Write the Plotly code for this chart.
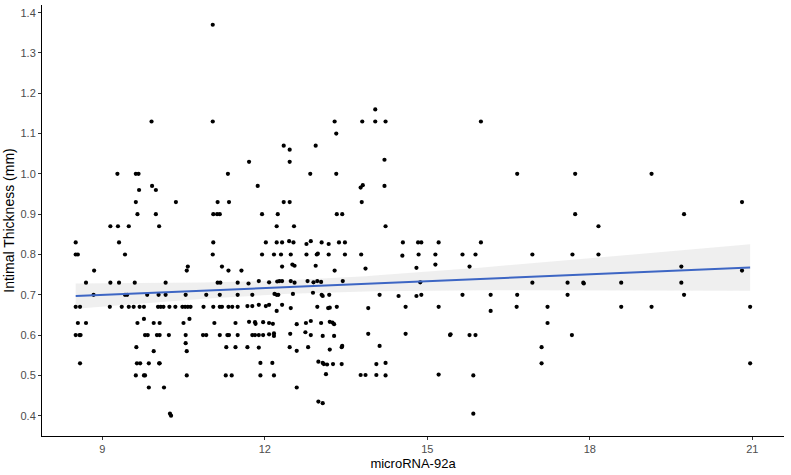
import numpy as np
import plotly.graph_objects as go

# microRNA-92a values
mirna = [
    11.04, 9.91, 11.04, 9.28, 9.62, 9.67, 11.32, 9.92, 9.99, 9.68, 9.62, 10.36, 11.13, 11.34, 9.65, 9.99, 11.05, 11.12, 11.17,
    8.51, 8.51, 8.55, 8.85, 8.70, 9.15, 9.29, 9.49, 10.05, 9.31, 9.42, 9.15, 9.31, 9.60, 8.84, 8.51, 8.59, 9.14, 9.36, 9.42,
    9.46, 9.49, 9.58, 9.69, 9.77, 9.83, 10.04, 10.17, 10.17, 10.03, 10.08, 10.13, 10.24, 10.35, 10.48, 10.53, 10.58, 10.63,
    10.54, 10.56, 10.58, 10.87, 10.92, 11.05, 11.04, 11.21, 11.13, 11.18, 11.33, 11.17, 11.05, 11.17, 11.21, 11.33, 11.40,
    11.50, 11.50, 11.50, 8.55, 8.70, 8.51, 8.58, 8.60, 8.59, 9.65, 9.77, 9.95, 10.06, 10.50, 10.61, 11.07, 11.46, 9.79, 9.84,
    10.01, 10.06, 10.23, 10.54, 10.86, 10.92, 11.17, 11.31, 11.34, 11.50, 9.63, 9.95, 10.54, 10.56, 11.29, 11.46, 9.64, 9.70,
    9.86, 10.05, 10.06, 9.62, 9.77, 9.79, 9.86, 10.14, 10.56, 11.28, 11.39, 10.25, 10.27,
    14.04, 13.29, 13.80, 14.04, 14.23, 13.32, 12.35, 12.46, 12.94, 11.71, 12.46, 14.21, 12.84, 13.32, 11.87, 13.77, 13.81,
    14.21, 12.35, 12.46, 13.79, 11.95, 12.24, 13.33, 13.43,
    12.22, 12.54, 14.23,
    12.02, 12.22, 12.32, 12.45, 12.53, 12.77, 12.85, 13.05, 13.18, 13.37, 13.48, 14.55, 14.83, 14.89, 15.21,
    11.95, 12.17, 12.30, 12.48, 12.77, 12.96, 12.98, 13.18, 13.48, 13.78, 14.54, 14.84, 15.15,
    11.57,
    12.32, 12.51, 12.55, 12.94, 15.15, 14.80,
    13.29, 13.86,
    11.70, 11.89, 12.08, 12.23, 12.27, 12.32, 12.48, 12.55, 12.79, 12.90, 12.97, 13.04, 13.44, 14.87,
    11.77, 12.18, 12.22, 12.25, 12.52, 12.89, 13.05, 13.07, 13.19, 14.12, 14.47, 14.80, 14.89,
    11.68, 11.77, 11.89, 12.02, 12.08, 12.22, 12.32, 12.48, 12.97, 13.17, 13.20, 13.33, 13.91, 14.60, 15.21,
    11.71, 11.82, 11.83, 11.97, 12.08, 12.15, 12.59, 12.76, 12.85, 13.04, 13.20, 13.25, 13.28,
    11.77, 11.82, 11.89, 11.97, 12.08, 12.17, 12.17, 12.47, 12.75, 12.85, 13.07, 13.28, 13.91, 14.60,
    11.68, 11.89, 12.46, 12.59, 12.80, 13.20, 13.42, 13.43, 14.12,
    11.92, 12.14, 12.99, 13.07, 13.09, 13.15, 13.26, 13.42, 14.06, 14.23,
    11.92, 12.17, 13.13, 13.77, 13.86, 14.06, 14.23, 15.21,
    12.59, 12.99, 13.07,
    15.99, 16.66, 17.73, 17.73, 18.16, 15.99, 15.65, 15.89, 15.78, 16.94, 17.68, 18.16, 16.94, 17.59, 17.88, 17.89, 18.58,
    15.65, 16.17, 16.66, 17.59, 16.17, 16.65, 17.22, 18.58, 17.22, 15.42, 15.43, 15.78, 15.89, 17.67, 17.11, 17.11, 15.85,
    15.85,
    19.14, 20.81, 19.74, 19.69, 19.69, 19.74, 19.14, 20.81, 20.96, 20.96,
]

# Intimal thickness (mm)
thickness = [
    1.37, 1.13, 1.13, 1.00, 1.00, 1.00, 1.00, 0.97, 0.96, 0.96, 0.93, 0.93, 0.93, 0.93, 0.90, 0.90, 0.90, 0.90, 0.90,
    0.83, 0.80, 0.80, 0.76, 0.73, 0.87, 0.87, 0.87, 0.87, 0.83, 0.80, 0.73, 0.73, 0.73, 0.70, 0.67, 0.67, 0.67, 0.67, 0.70,
    0.70, 0.67, 0.67, 0.67, 0.67, 0.70, 0.70, 0.73, 0.70, 0.67, 0.67, 0.67, 0.67, 0.67, 0.67, 0.67, 0.67, 0.67,
    0.70, 0.76, 0.77, 0.67, 0.70, 0.83, 0.80, 0.77, 0.73, 0.73, 0.76, 0.70, 0.67, 0.67, 0.67, 0.67, 0.67,
    0.73, 0.70, 0.67, 0.63, 0.63, 0.60, 0.60, 0.60, 0.53, 0.63, 0.64, 0.63, 0.63, 0.63, 0.64, 0.63, 0.63, 0.60, 0.60,
    0.60, 0.60, 0.60, 0.60, 0.60, 0.60, 0.60, 0.60, 0.60, 0.60, 0.57, 0.56, 0.58, 0.56, 0.57, 0.57, 0.53, 0.53,
    0.53, 0.53, 0.53, 0.50, 0.50, 0.50, 0.47, 0.47, 0.50, 0.50, 0.50, 0.405, 0.40,
    1.16, 1.13, 1.13, 1.13, 1.13, 1.10, 1.07, 1.06, 1.07, 1.03, 1.03, 1.035, 1.00, 1.00, 0.97, 0.966, 0.972,
    0.97, 0.93, 0.93, 0.93, 0.90, 0.90, 0.90, 0.90,
    0.87, 0.87, 0.87,
    0.83, 0.83, 0.83, 0.833, 0.83, 0.826, 0.833, 0.83, 0.826, 0.83, 0.83, 0.83, 0.83, 0.83, 0.83,
    0.80, 0.80, 0.80, 0.80, 0.80, 0.80, 0.802, 0.80, 0.80, 0.80, 0.797, 0.80, 0.80,
    0.76,
    0.77, 0.775, 0.772, 0.772, 0.775, 0.767,
    0.76, 0.765,
    0.728, 0.734, 0.731, 0.733, 0.734, 0.734, 0.734, 0.73, 0.734, 0.731, 0.734, 0.732, 0.734, 0.731,
    0.70, 0.702, 0.70, 0.70, 0.702, 0.705, 0.70, 0.697, 0.70, 0.70, 0.697, 0.697, 0.70,
    0.672, 0.672, 0.675, 0.672, 0.675, 0.66, 0.675, 0.667, 0.67, 0.667, 0.668, 0.67, 0.667, 0.67, 0.67,
    0.633, 0.632, 0.628, 0.632, 0.63, 0.628, 0.627, 0.63, 0.635, 0.63, 0.633, 0.631, 0.627,
    0.60, 0.60, 0.60, 0.60, 0.602, 0.604, 0.598, 0.603, 0.607, 0.60, 0.598, 0.598, 0.603, 0.603,
    0.57, 0.569, 0.57, 0.561, 0.57, 0.564, 0.57, 0.573, 0.573,
    0.531, 0.531, 0.534, 0.531, 0.528, 0.527, 0.528, 0.528, 0.528, 0.531,
    0.50, 0.50, 0.503, 0.501, 0.501, 0.501, 0.50, 0.502,
    0.47, 0.435, 0.431,
    1.13, 1.00, 1.00, 0.90, 0.87, 0.83, 0.80, 0.80, 0.77, 0.80, 0.80, 0.80, 0.73, 0.73, 0.73, 0.728, 0.73,
    0.70, 0.70, 0.70, 0.70, 0.66, 0.67, 0.67, 0.67, 0.63, 0.60, 0.602, 0.60, 0.60, 0.60, 0.57, 0.53, 0.50,
    0.405,
    1.00, 0.93, 0.90, 0.77, 0.73, 0.70, 0.67, 0.76, 0.67, 0.53,
]

x_ticks = [9, 12, 15, 18, 21]
y_ticks = [0.4, 0.5, 0.6, 0.7, 0.8, 0.9, 1.0, 1.1, 1.2, 1.3, 1.4]

x = np.array(mirna, dtype=float)
y = np.array(thickness, dtype=float)

# linear fit with 95% confidence band (as geom_smooth(method="lm"))
n = len(x)
b1, b0 = np.polyfit(x, y, 1)
resid = y - (b0 + b1 * x)
s = np.sqrt(np.sum(resid ** 2) / (n - 2))
xbar = x.mean()
sxx = np.sum((x - xbar) ** 2)
xs = np.linspace(x.min(), x.max(), 80)
ys = b0 + b1 * xs
se = s * np.sqrt(1.0 / n + (xs - xbar) ** 2 / sxx)
tval = 1.968
lo = ys - tval * se
hi = ys + tval * se

fig = go.Figure()
fig.add_trace(go.Scatter(
    x=np.concatenate([xs, xs[::-1]]), y=np.concatenate([hi, lo[::-1]]),
    fill="toself", fillcolor="rgba(153,153,153,0.16)", line=dict(width=0),
    mode="lines", hoverinfo="skip", showlegend=False,
))
fig.add_trace(go.Scatter(
    x=x, y=y, mode="markers",
    marker=dict(color="black", size=4.2, line=dict(width=0)),
    showlegend=False,
))
fig.add_trace(go.Scatter(
    x=xs, y=ys, mode="lines", line=dict(color="#3D66C4", width=2),
    showlegend=False,
))

font_family = "Liberation Sans, Arial, sans-serif"
fig.update_layout(
    width=791, height=475,
    margin=dict(l=42, r=7, t=5, b=39),
    paper_bgcolor="white", plot_bgcolor="white",
    font=dict(family=font_family, color="black"),
    showlegend=False,
)
fig.update_xaxes(
    range=[7.888, 21.585], tickvals=x_ticks, ticktext=[str(v) for v in x_ticks],
    showgrid=False, zeroline=False,
    showline=True, linecolor="black", linewidth=1,
    ticks="outside", ticklen=3, tickcolor="#333333", tickwidth=1,
    tickfont=dict(size=11, color="#4D4D4D", family=font_family),
    title=dict(text="microRNA-92a", font=dict(size=13, color="black", family=font_family), standoff=4),
    automargin=False,
)
fig.update_yaxes(
    range=[0.3496, 1.419], tickvals=y_ticks, ticktext=[f"{v:.1f}" for v in y_ticks],
    showgrid=False, zeroline=False,
    showline=True, linecolor="black", linewidth=1,
    ticks="outside", ticklen=3, tickcolor="#333333", tickwidth=1,
    tickfont=dict(size=11, color="#4D4D4D", family=font_family),
    title=dict(text="Intimal Thickness (mm)", font=dict(size=14, color="black", family=font_family), standoff=2),
    automargin=False,
)

fig.write_html("out.html", config={"displayModeBar": False},
               post_script="document.body.style.margin='0';")
